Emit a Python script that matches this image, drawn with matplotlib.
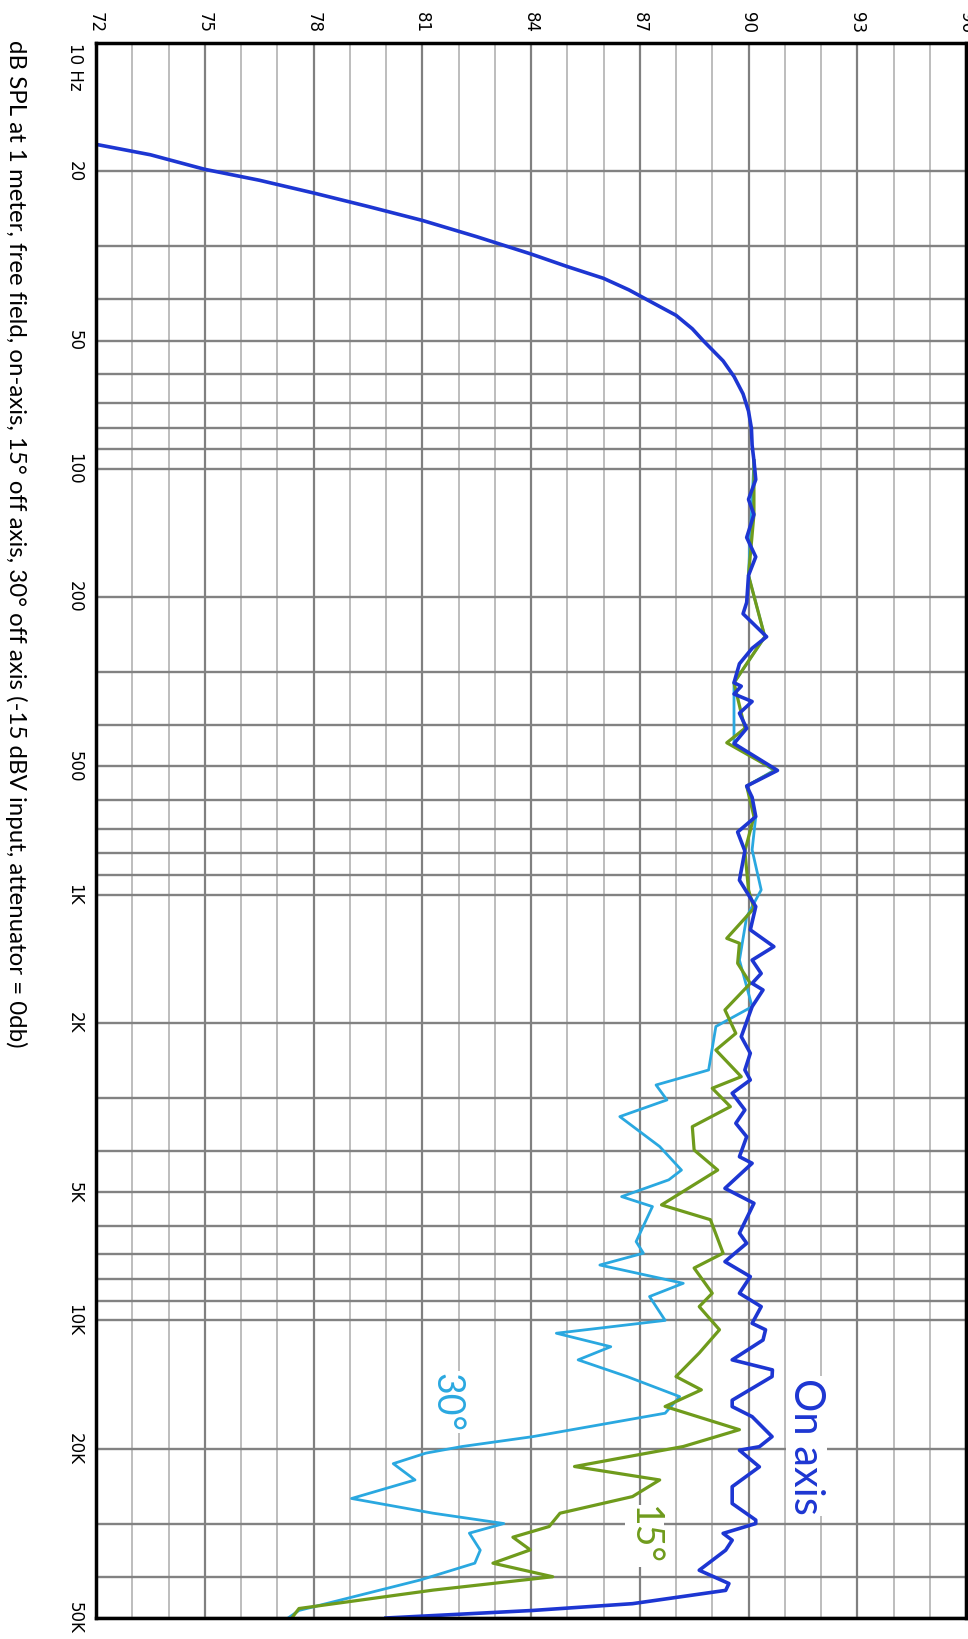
import matplotlib
matplotlib.use('Agg')
import matplotlib.pyplot as plt
from matplotlib.ticker import NullFormatter

# on-axis response (Hz, dB SPL)
on_axis_freq = [17.3, 18.3, 19.8, 21.0, 22.5, 24.2, 26.1, 28.5, 31.3, 33.5, 35.7, 38.0, 40.5, 43.6,
                46.9, 50.0, 55.8, 60.7, 66.7, 73.2, 80.3, 88.1, 95.7,
                106, 118, 128, 145, 161, 178, 206, 219, 248, 264, 287, 318, 324, 338, 352, 375,
                407, 442, 511, 556, 591, 656, 713, 790, 925, 1067, 1210, 1325, 1425, 1532, 1616,
                1675, 1833, 2156, 2358, 2582, 2725, 2928, 3205, 3444, 3704, 4127, 4276, 4897,
                5308, 6239, 6590, 7279, 7892, 8635, 9283, 10160, 10520, 11120, 12380, 13070,
                13550, 15400, 15940, 16830, 18750, 19800, 20180, 22080, 24580, 26920, 29440,
                30000, 31640, 32830, 34650, 38620, 41500, 43060, 46270, 48000, 49800, 50000]
on_axis_db = [72.0, 73.5, 75.0, 76.5, 78.0, 79.5, 81.0, 82.5, 84.0, 85.0, 86.0, 86.7, 87.3, 88.0,
              88.45, 88.75, 89.3, 89.6, 89.85, 90.0, 90.08, 90.1, 90.15,
              90.2, 90.0, 90.15, 89.95, 90.2, 90.0, 89.95, 89.85, 90.5, 90.1, 89.75, 89.6, 89.8, 89.6, 90.1, 89.75,
              89.95, 89.6, 90.8, 89.95, 90.1, 90.2, 89.7, 89.9, 89.75, 90.2, 90.05, 90.7, 90.1, 90.35, 90.1,
              90.4, 90.1, 89.8, 90.05, 89.9, 90.05, 89.55, 89.9, 89.65, 89.95, 89.75, 90.1, 89.35,
              90.15, 89.75, 89.95, 89.35, 90.05, 89.75, 90.35, 90.1, 90.47, 90.4, 89.55, 90.66,
              90.65, 89.55, 89.55, 90.1, 90.65, 90.3, 89.75, 90.3, 89.55, 89.55, 90.2,
              90.2, 89.3, 89.55, 89.37, 88.64, 89.46, 89.37, 86.8, 84.05, 80.4, 80.0]

# 15 degrees off axis
off15_freq = [95.7, 128, 178, 248, 318, 407, 440, 511, 556, 656, 790, 975, 1077, 1267, 1301, 1450,
              1616, 1866, 2118, 2318, 2677, 2850, 3148, 3508, 3980, 4436, 5355, 5802, 6953, 7534,
              8635, 9283, 10520, 11930, 13550, 14560, 15930, 18060, 19780, 22040, 23700, 25930,
              28370, 30490, 32300, 34590, 37170, 40000, 43000, 47500, 50000]
off15_db = [90.15, 90.15, 90.0, 90.45, 89.6, 89.9, 89.4, 90.75, 89.95, 90.15, 89.9, 90.0, 90.15, 89.4, 89.75, 89.7,
            90.05, 89.35, 89.65, 89.1, 89.8, 89.0, 89.5, 88.45, 88.5, 89.15, 87.6, 88.95, 89.3, 88.5,
            89.0, 88.64, 89.2, 88.64, 88.0, 88.7, 87.7, 89.75, 88.2, 85.2, 87.55, 86.8,
            84.8, 84.5, 83.5, 83.98, 82.95, 84.6, 81.3, 77.6, 77.4]

# 30 degrees off axis
off30_freq = [95.7, 178, 248, 318, 442, 511, 556, 656, 785, 975, 1127, 1425, 1833, 2041, 2582, 2800,
              3036, 3322, 3906, 4436, 4677, 5121, 5404, 6530, 6953, 7413, 8183, 8790, 10000, 10720,
              11530, 12380, 13550, 15100, 16520, 18750, 19780, 20500, 21700, 23700, 26200, 28370,
              30000, 31600, 34650, 37170, 40700, 48000, 50000]
off30_db = [90.15, 90.0, 90.45, 89.6, 89.6, 90.7, 89.95, 90.2, 90.1, 90.35, 89.95, 89.75, 90.1, 89.1, 88.9, 87.45,
            87.75, 86.45, 87.55, 88.15, 87.8, 86.5, 87.35, 86.9, 87.1, 85.9, 88.2, 87.27, 87.7, 84.7,
            86.2, 85.3, 86.65, 88.1, 87.7, 84.05, 82.1, 81.1, 80.2, 80.8, 79.05, 81.3,
            83.25, 82.3, 82.6, 82.45, 80.95, 77.6, 77.3]

db_ticks = list(range(72, 97, 3))
freq_ticks = [10, 20, 50, 100, 200, 500, 1000, 2000, 5000, 10000, 20000, 50000]
freq_labels = ['10 Hz', '20', '50', '100', '200', '500', '1K', '2K', '5K', '10K', '20K', '50K']
freq_minor = [30, 40, 60, 70, 80, 90, 300, 400, 600, 700, 800, 900,
              3000, 4000, 6000, 7000, 8000, 9000, 30000, 40000]

caption = ('dB SPL at 1 meter, free field, on-axis, 15\u00b0 off axis, 30\u00b0 off axis '
           '(-15 dBV input, attenuator = 0db)')

dark_blue = '#1d36d2'
green = '#6f9b1c'
light_blue = '#2aa8e0'

fig = plt.figure(figsize=(9.68, 16.39), dpi=100)
ax = fig.add_axes([96 / 968, 1 - 1618 / 1639, 870 / 968, 1575 / 1639])

ax.plot(off30_db, off30_freq, color=light_blue, lw=2.0, zorder=3)
ax.plot(off15_db, off15_freq, color=green, lw=2.3, zorder=4)
ax.plot(on_axis_db, on_axis_freq, color=dark_blue, lw=2.6, zorder=5)

ax.set_yscale('log')
ax.set_ylim(50000, 10)
ax.set_xlim(72, 96)

ax.xaxis.tick_top()
ax.set_xticks(db_ticks)
ax.set_xticks(range(72, 97), minor=True)
ax.set_xticklabels([str(t) for t in db_ticks], rotation=270, fontsize=12, family='DejaVu Sans')

ax.set_yticks(freq_ticks)
ax.set_yticks(freq_minor, minor=True)
ax.yaxis.set_minor_formatter(NullFormatter())
ax.set_yticklabels(freq_labels, rotation=270, fontsize=12, family='DejaVu Sans')
for lab in ax.get_yticklabels():
    lab.set_va('center')
ax.get_yticklabels()[0].set_va('top')

ax.tick_params(axis='both', which='both', length=0)
ax.tick_params(axis='x', pad=7)
ax.tick_params(axis='y', pad=9)

ax.grid(True, axis='x', which='major', color='#808080', lw=1.6, zorder=1)
ax.grid(True, axis='x', which='minor', color='#bdbdbd', lw=1.4, zorder=1)
ax.grid(True, axis='y', which='both', color='#828282', lw=1.7, zorder=1)

for sp in ax.spines.values():
    sp.set_linewidth(2.5)
    sp.set_color('black')
    sp.set_zorder(6)

box = dict(facecolor='white', edgecolor='none', pad=1)
ax.text(91.6, 19730, 'On axis', rotation=270, color=dark_blue, fontsize=30, family='Lato',
        ha='center', va='center', bbox=box, zorder=4.5)
ax.text(87.12, 32060, '15\u00b0', rotation=270, color=green, fontsize=27, family='Lato',
        ha='center', va='center', bbox=box, zorder=3.5)
ax.text(81.67, 15550, '30\u00b0', rotation=270, color=light_blue, fontsize=27, family='Lato',
        ha='center', va='center', bbox=box, zorder=2.5)

fig.text(16 / 968, 1 - 40 / 1639, caption, rotation=270, ha='center', va='top',
         fontsize=17.3, family='Lato', color='black')

fig.savefig('out.png', dpi=100)
